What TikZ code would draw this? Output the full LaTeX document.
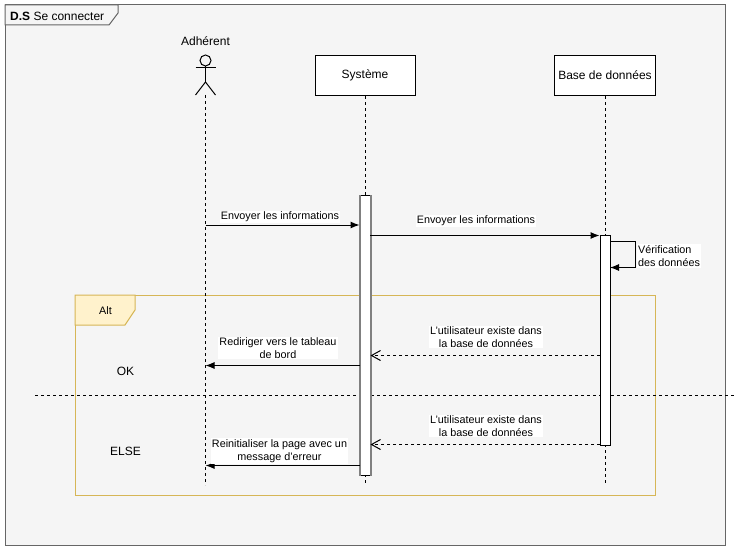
\documentclass[tikz,border=0pt]{standalone}
\usepackage{fontspec}
\setmainfont{Liberation Sans}
\usetikzlibrary{positioning,arrows.meta}
\tikzset{
  cadre/.style = {draw = black!60, fill = black!4, line width = 1pt, minimum width = 720pt, minimum height = 540pt, inner sep = 0pt},
  bloc/.style = {draw = black, fill = white, line width = 1pt, minimum width = 100pt, minimum height = 40pt, font = \fontsize{12}{14}\selectfont},
  activation/.style = {draw = black, fill = white, line width = 1pt, minimum width = 10pt, inner sep = 0pt},
  vie/.style = {line width = 1pt, dash pattern = on 3pt off 3pt},
  envoi/.style = {line width = 1pt, -{Latex[length = 9pt, width = 7pt]}},
  retour/.style = {line width = 1pt, dash pattern = on 3pt off 3pt, -{Straight Barb[length = 9pt, width = 10pt]}},
  message/.style = {fill = white, inner sep = 1pt, align = center, font = \fontsize{10.8}{13}\selectfont},
  titre/.style = {inner sep = 0pt, font = \fontsize{12}{14}\selectfont},
  alt/.style = {draw = altbord, line width = 1pt}
}
\definecolor{altbord}{HTML}{D6B656}
\definecolor{altfond}{HTML}{FFF2CC}
\begin{document}
\begin{tikzpicture}[x = 1pt, y = -1pt]
\useasboundingbox (0,0) rectangle (742,551);
\node[cadre] (cadre) at (365,275) {};
\draw[draw = black!60, fill = black!4, line width = 1pt] (5,5) -- (118,5) -- (118,13) -- (109,25) -- (5,25) -- cycle;
\node[titre, right] (nom) at (10,16) {\textbf{D.S} Se connecter};
% fragment alt
\node[alt, minimum width = 580pt, minimum height = 200pt, inner sep = 0pt] (fragment) at (365,395) {};
\draw[alt, fill = altfond] (75,295) -- (135,295) -- (135,310) -- (125,325) -- (75,325) -- cycle;
\node[message, fill = none] (alttexte) at (105.5,311) {Alt};
\coordinate (sepa) at (35,395);
\coordinate (sepb) at (735,395);
\draw[vie] (sepa) -- (sepb);
\node[titre] (ok) at (125.5,371) {OK};
\node[titre] (sinon) at (125.5,451) {ELSE};
% acteur
\node[titre] (adherent) at (205.5,41) {Adhérent};
\node[draw, circle, line width = 1pt, minimum size = 11pt, inner sep = 0pt] (tete) at (205.5,60.5) {};
\coordinate (bassin) at (205.5,82);
\coordinate (brasg) at (195.5,68);
\coordinate (brasd) at (215.5,68);
\coordinate (piedg) at (195.5,95);
\coordinate (piedd) at (215.5,95);
\draw[line width = 1pt] (tete.south) -- (bassin);
\draw[line width = 1pt] (brasg) -- (brasd);
\draw[line width = 1pt] (piedg) -- (bassin) -- (piedd);
% lignes de vie
\node[bloc] (systeme) at (365,75.5) {Système};
\node[bloc] (base) at (605,75.5) {Base de données};
\coordinate (finadh) at (205.5,485);
\coordinate (finsys) at (365.5,485);
\coordinate (finbase) at (605.5,485);
\draw[vie] (bassin) ++(0,13) -- (finadh);
\draw[vie] (systeme.south -| finsys) -- (finsys);
\draw[vie] (base.south -| finbase) -- (finbase);
\node[activation, minimum height = 280pt] (actsys) at (365,335.5) {};
\node[activation, minimum height = 210pt] (actbase) at (605,340.5) {};
\draw[black!50, line width = 2pt] (actsys.north west) -- (actsys.south west);
\draw[black!50, line width = 2pt] (actsys.north east) -- (actsys.south east);
% messages
\coordinate (m1) at (205.5,225);
\coordinate (m2) at (370,235.5);
\coordinate (m3) at (600,355.5);
\coordinate (m4) at (360,365.5);
\coordinate (m5) at (600,444.5);
\coordinate (m6) at (360,465.5);
\coordinate (bouclea) at (610,241.5);
\coordinate (boucleb) at (635.5,241.5);
\coordinate (bouclec) at (635.5,267.5);
\coordinate (boucled) at (610,267.5);
\draw[envoi] (m1) -- (m1 -| actsys.west);
\draw[envoi] (m2) -- (m2 -| actbase.west);
\draw[line width = 1pt, -{Latex[length = 9pt, width = 7pt]}] (bouclea) -- (boucleb) -- (bouclec) -- (boucled);
\draw[retour] (m3) -- (m3 -| actsys.east);
\draw[envoi] (m4) -- (m4 -| finadh);
\draw[retour] (m5) -- (m5 -| actsys.east);
\draw[envoi] (m6) -- (m6 -| finadh);
\node[message] (t1) at (280,217) {Envoyer les informations};
\node[message] (t2) at (476,221) {Envoyer les informations};
\node[message, align = left] (t3) at (669,256) {Vérification\\des données};
\node[message] (t4) at (486,337) {L'utilisateur existe dans\\la base de données};
\node[message] (t5) at (278,348) {Rediriger vers le tableau\\de bord};
\node[message] (t6) at (486,426) {L'utilisateur existe dans\\la base de données};
\node[message] (t7) at (279.5,451) {Reinitialiser la page avec un\\message d'erreur};
\end{tikzpicture}
\end{document}
